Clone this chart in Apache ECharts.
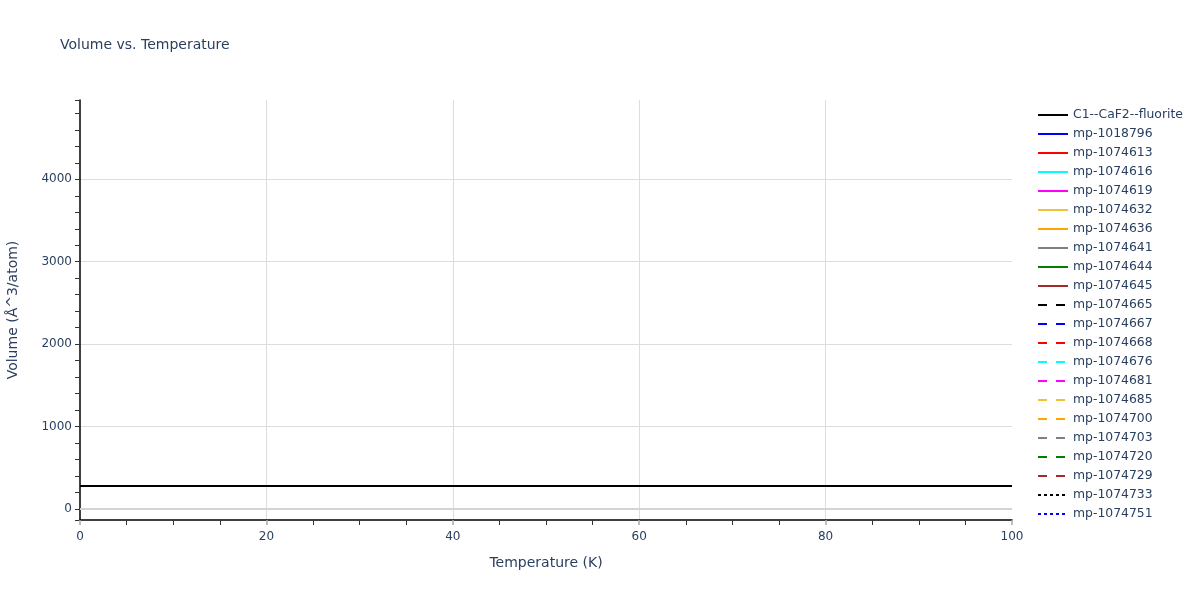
<!DOCTYPE html>
<html>
<head>
<meta charset="utf-8">
<script src="https://cdn.jsdelivr.net/npm/echarts@6/dist/echarts.min.js"></script>
<style>html,body{margin:0;padding:0;background:#fff;}#c{width:1200px;height:600px;}</style>
</head>
<body>
<div id="c"></div>
<script>
// Data
const temperatures = [0, 10, 20, 30, 40, 50, 60, 70, 80, 90, 100];
const fluoriteVolume = [279, 279, 279, 279, 279, 279, 279, 279, 279, 279, 279];
const seriesNames = [
  'C1--CaF2--fluorite', 'mp-1018796', 'mp-1074613', 'mp-1074616', 'mp-1074619',
  'mp-1074632', 'mp-1074636', 'mp-1074641', 'mp-1074644', 'mp-1074645',
  'mp-1074665', 'mp-1074667', 'mp-1074668', 'mp-1074676', 'mp-1074681',
  'mp-1074685', 'mp-1074700', 'mp-1074703', 'mp-1074720', 'mp-1074729',
  'mp-1074733', 'mp-1074751'
];
const xTicks = [0, 20, 40, 60, 80, 100];
const yRange = [-133, 4962];

const colors = ['#000000', '#0000ff', '#ff0000', '#00ffff', '#ff00ff', '#eec23a', '#ffa500', '#808080', '#008000', '#a52a2a',
  '#000000', '#0000ff', '#ff0000', '#00ffff', '#ff00ff', '#eec23a', '#ffa500', '#808080', '#008000', '#a52a2a',
  '#000000', '#0000ff'];
const dashTypes = [];
for (let i = 0; i < seriesNames.length; i++) {
  dashTypes.push(i < 10 ? 'solid' : (i < 20 ? [9, 9] : [3, 3]));
}

const series = seriesNames.map((name, i) => {
  const s = {
    name: name,
    type: 'line',
    symbol: 'none',
    showSymbol: false,
    data: i === 0 ? temperatures.map((t, k) => [t, fluoriteVolume[k]]) : [],
    lineStyle: { color: colors[i], width: 2, type: dashTypes[i] },
    itemStyle: { color: colors[i] },
    z: i === 0 ? 5 : 3
  };
  if (i === 0) {
    s.markLine = {
      silent: true,
      symbol: ['none', 'none'],
      label: { show: false },
      lineStyle: { color: '#d4d4d4', width: 2, type: 'solid' },
      data: [{ yAxis: 0 }],
      z: 1
    };
  }
  return s;
});

const chart = echarts.init(document.getElementById('c'));
const font = '"DejaVu Sans", Verdana, sans-serif';
const txt = '#2a3f5f';
chart.setOption({
  animation: false,
  backgroundColor: '#ffffff',
  textStyle: { fontFamily: font },
  title: {
    text: 'Volume vs. Temperature',
    left: 60, top: 38, padding: 0,
    textStyle: { fontFamily: font, fontSize: 14, fontWeight: 'normal', color: txt }
  },
  grid: { left: 80, right: 188, top: 100, bottom: 80, containLabel: false, outerBoundsMode: 'none' },
  legend: {
    orient: 'vertical',
    left: 1037, top: 109, padding: 0,
    itemWidth: 30, itemHeight: 14, itemGap: 7,
    itemStyle: { opacity: 0 },
    textStyle: { fontFamily: font, fontSize: 12.4, color: txt },
    data: seriesNames
  },
  xAxis: {
    type: 'value',
    min: xTicks[0], max: xTicks[xTicks.length - 1], interval: xTicks[1] - xTicks[0],
    name: 'Temperature (K)', nameLocation: 'middle', nameGap: 36,
    nameTextStyle: { fontFamily: font, fontSize: 14, color: txt },
    axisLine: { show: true, onZero: false, lineStyle: { color: '#000', width: 1.5 } },
    axisTick: { show: true, inside: false, length: 5, lineStyle: { color: '#aaaaaa', width: 1.5 } },
    minorTick: { show: true, splitNumber: 4, length: 5, lineStyle: { color: '#333', width: 1 } },
    axisLabel: { fontFamily: font, fontSize: 12, color: txt, margin: 11 },
    splitLine: { show: true, showMinLine: false, showMaxLine: false, lineStyle: { color: '#dddddd', width: 1 } }
  },
  yAxis: {
    type: 'value',
    min: yRange[0], max: yRange[1], splitNumber: 5,
    name: 'Volume (Å^3/atom)', nameLocation: 'middle', nameGap: 60,
    nameTextStyle: { fontFamily: font, fontSize: 14, color: txt },
    axisLine: { show: true, lineStyle: { color: '#000', width: 1.5 } },
    axisTick: { show: true, inside: false, length: 5, lineStyle: { color: '#333', width: 1 } },
    minorTick: { show: true, splitNumber: 5, length: 5, lineStyle: { color: '#333', width: 1 } },
    axisLabel: { fontFamily: font, fontSize: 12, color: txt, margin: 8, showMinLabel: false, showMaxLabel: false,
      formatter: v => String(v) },
    splitLine: { show: true, showMinLine: false, showMaxLine: false, lineStyle: { color: '#dddddd', width: 1 } }
  },
  series: series
});
</script>
</body>
</html>
